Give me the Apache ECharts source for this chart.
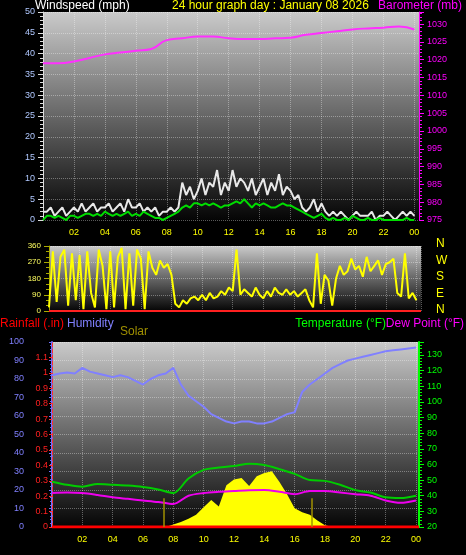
<!DOCTYPE html><html><head><meta charset="utf-8"><script src="https://cdn.jsdelivr.net/npm/echarts@6/dist/echarts.min.js"></script>
<style>body{margin:0;background:#000}#c{width:466px;height:555px}</style></head><body><div id="c"></div><script>
// wind, 15-min steps from 00:00
const windGust=[2,2,3,1, 2,3,1,2, 3,2,4,2, 3,4,2,3, 3,4,2,3, 4,2,5,3, 3,4,2,3, 2,3,1,2, 2,3,2,3, 9,6,8,5, 7,10,6,9, 8,12,6,9, 7,12,8,10, 9,7,10,6, 8,10,6,9, 7,11,6,8, 7,5,6,3, 2,3,5,2, 4,2,1,2, 1,2,1,0, 1,2,1,1, 1,2,0,1, 1,2,1,0, 1,2,1,2, 1];
const windAvg=[0,1,1,0.5, 1,0.5,0,1, 1,0.5,1,1.5, 1.5,1,1.5,1, 2,1.5,1,1.5, 1,1.5,2,1, 1.5,1,2,1.5, 1,0.5,0.5,0, 0.5,1,1.5,2, 3,3.5,3,4, 4,3.5,4,3.5, 4,3.5,3,3.5, 3.5,4,4.5,4, 5,4,3,4, 3.5,4,3.5,3, 3,3.5,4,3.5, 3.5,3,2.5,2, 1.5,1,0.5,1, 1.5,0.5,0,0.5, 0,0,0.5,0, 1,0.5,0,0, 0.5,0,0,0.5, 0,0,0,0, 0,0,0.5,0, 0];
const windDir=[20,330,50,300, 340,30,320,60, 310,10,330,100, 20,340,250,10, 330,20,300,350, 10,320,30,340, 290,10,330,240, 200,280,240,260, 200,40,20,60, 40,70,80,60, 90,60,100,70, 80,110,90,130, 110,340,90,120, 100,80,130,90, 70,110,80,130, 100,90,120,90, 110,80,100,120, 60,20,320,40, 200,170,30,180, 250,200,220,290, 230,250,190,300, 220,250,280,200, 260,270,290,100, 80,320,70,100, 60];
// hourly
const baro=[1019,1019,1019.5,1020.5,1021.5,1022,1022.5,1023,1025.5,1026,1026.5,1026.5,1026,1025.8,1025.8,1026,1026.2,1027,1027.5,1028,1028.5,1028.8,1029,1029.3,1028.5];
// half-hourly
const humidity=[82,83,83.5,83,86,84,83,82,81,82,81,79,77,80,82,83,86,77,71,68,65,61,59,57,56,57,57,56,56,57,59,61,62,73,77,80,83,86,88,90,91,92,93,94,95,95.5,96,96.5,97];
// hourly
const temperature=[49,47,45.8,47.5,47,46.5,45.6,44,41.7,51,56.5,58,59,60.5,59.6,57,54,50,49.5,47,43.6,42,39,38.5,40];
const dewPoint=[41.7,42,41.7,40.5,39,38,37,36,34.7,40,41.7,42.5,43,43.5,43.6,42.5,41,43,43,42,41,40,37,35.5,37];
// half-hourly from 07:30
const solar=[0,3,6,10,15,24,33,25,51,58,60,50,62,66,68,55,40,23,18,15,8,2,0];
const hourLabels=['02','04','06','08','10','12','14','16','18','20','22','00'];

const q=(a,step,start)=>a.map((v,i)=>[start+i*step,v]);
const grad=()=>new echarts.graphic.LinearGradient(0,0,0,1,[{offset:0,color:'#cacaca'},{offset:0.45,color:'#707070'},{offset:1,color:'#050505'}]);
const gl={show:true,lineStyle:{color:'rgba(255,255,255,0.35)',type:'dotted'}};
const F='Liberation Sans';
const xa=(gi,max)=>({type:'value',gridIndex:gi,min:0,max:max,interval:2,axisLine:{show:false},axisTick:{show:false},splitLine:gl,
 axisLabel:{show:gi!==1,color:'#ffff00',fontSize:9,formatter:v=>v===0?'':hourLabels[v/2-1]||''}});
const ch=echarts.init(document.getElementById('c'));
ch.setOption({backgroundColor:'#000',animation:false,textStyle:{fontFamily:F},
grid:[{left:43,right:47,top:12,height:208,show:true,backgroundColor:grad(),borderWidth:0},
{left:49,right:45,top:246,height:65,show:true,backgroundColor:grad(),borderWidth:0},
{left:52,right:47,top:342,height:185,show:true,backgroundColor:grad(),borderWidth:0}],
xAxis:[xa(0,24.3),xa(1,24.3),xa(2,24.2)],
yAxis:[
{gridIndex:0,position:'left',min:0,max:50,interval:5,axisLine:{show:true,lineStyle:{color:'#dddddd'}},axisTick:{show:true},minorTick:{show:true,splitNumber:5},axisLabel:{color:'#b0c8ff',fontSize:9},splitLine:gl},
{gridIndex:0,position:'right',min:975,max:1033.4,interval:5,axisLine:{show:true,lineStyle:{color:'#ff00ff'}},axisTick:{show:true},minorTick:{show:true,splitNumber:5},axisLabel:{color:'#ff00ff',fontSize:9,showMaxLabel:false,formatter:v=>String(v)},splitLine:{show:false}},
{gridIndex:1,position:'left',min:0,max:360,interval:90,axisLine:{show:true,lineStyle:{color:'#aaaa00'}},axisTick:{show:true},minorTick:{show:true,splitNumber:3},axisLabel:{color:'#ffff60',fontSize:8},splitLine:gl},
{gridIndex:2,position:'left',min:0,max:100,interval:10,offset:24,axisLine:{show:true,lineStyle:{color:'#7070ff',width:2}},axisTick:{show:true,length:3},minorTick:{show:true,length:2},axisLabel:{color:'#8080ff',fontSize:9,margin:4},splitLine:gl},
{gridIndex:2,position:'left',min:0,max:1.2,interval:0.1,axisLine:{show:true,lineStyle:{color:'#ff3030',type:'dashed'}},axisTick:{show:true,length:3},axisLabel:{color:'#ff2020',fontSize:9,margin:4,showMaxLabel:false,formatter:v=>String(+v.toFixed(1))},splitLine:{show:false}},
{gridIndex:2,position:'right',min:20,max:138.3,interval:10,axisLine:{show:true,lineStyle:{color:'#00ff00',width:2}},axisTick:{show:true},minorTick:{show:true},axisLabel:{color:'#00ff00',fontSize:9,showMaxLabel:false},splitLine:{show:false}},
{gridIndex:2,position:'right',min:0,max:226,show:false}],
series:[
{type:'line',xAxisIndex:0,yAxisIndex:0,data:q(windGust,0.25,0),symbol:'none',lineStyle:{color:'#e8e8e8',width:2}},
{type:'line',xAxisIndex:0,yAxisIndex:0,data:q(windAvg,0.25,0),symbol:'none',lineStyle:{color:'#00dd00',width:2}},
{type:'line',xAxisIndex:0,yAxisIndex:1,data:q(baro,1,0),symbol:'none',smooth:true,lineStyle:{color:'#ff30ff',width:2}},
{type:'line',xAxisIndex:1,yAxisIndex:2,data:q(windDir,0.25,0),symbol:'none',lineStyle:{color:'#ffff00',width:2}},
{type:'line',xAxisIndex:1,yAxisIndex:2,data:[[0,0],[24.3,0]],symbol:'none',lineStyle:{color:'#ff2020',width:2}},
{type:'line',xAxisIndex:2,yAxisIndex:6,data:q(solar,0.5,7.5),symbol:'none',lineStyle:{width:0},areaStyle:{color:'#ffff00',opacity:1},
 markLine:{symbol:'none',silent:true,label:{show:false},lineStyle:{color:'#a09000',type:'solid',width:1.5},data:[[{coord:[7.4,0]},{coord:[7.4,35]}],[{coord:[17.1,0]},{coord:[17.1,35]}]]}},
{type:'line',xAxisIndex:2,yAxisIndex:3,data:q(humidity,0.5,0),symbol:'none',lineStyle:{color:'#8080ff',width:2}},
{type:'line',xAxisIndex:2,yAxisIndex:5,data:q(temperature,1,0),symbol:'none',smooth:0.3,lineStyle:{color:'#00cc00',width:2}},
{type:'line',xAxisIndex:2,yAxisIndex:5,data:q(dewPoint,1,0),symbol:'none',smooth:0.3,lineStyle:{color:'#ee00ee',width:2}},
{type:'line',xAxisIndex:2,yAxisIndex:4,data:[[0,0],[24.2,0]],symbol:'none',lineStyle:{color:'#ff0000',width:3}}],
graphic:[
{type:'text',left:35,top:0,style:{text:'Windspeed (mph)',fill:'#fff',font:'12px Liberation Sans'}},
{type:'text',left:172,top:0,style:{text:'24 hour graph day : January 08 2026',fill:'#ffff00',font:'12px Liberation Sans'}},
{type:'text',right:4,top:0,style:{text:'Barometer (mb)',fill:'#ff00ff',font:'12px Liberation Sans'}},
...['N','W','S','E','N'].map((t,i)=>({type:'text',left:436,top:238+i*16.5,style:{text:t,fill:'#ffff00',font:'12px Liberation Sans'}})),
{type:'text',left:0,top:318,style:{text:'Rainfall (.in)',fill:'#ff0000',font:'12px Liberation Sans'}},
{type:'text',left:67,top:318,style:{text:'Humidity',fill:'#8080ff',font:'12px Liberation Sans'}},
{type:'text',left:120,top:326,style:{text:'Solar',fill:'#a09000',font:'12px Liberation Sans'}},
{type:'text',right:80,top:318,style:{text:'Temperature (°F)',fill:'#00ff00',font:'12px Liberation Sans'}},
{type:'text',right:2,top:318,style:{text:'Dew Point (°F)',fill:'#ff00ff',font:'12px Liberation Sans'}}]
});
</script></body></html>
